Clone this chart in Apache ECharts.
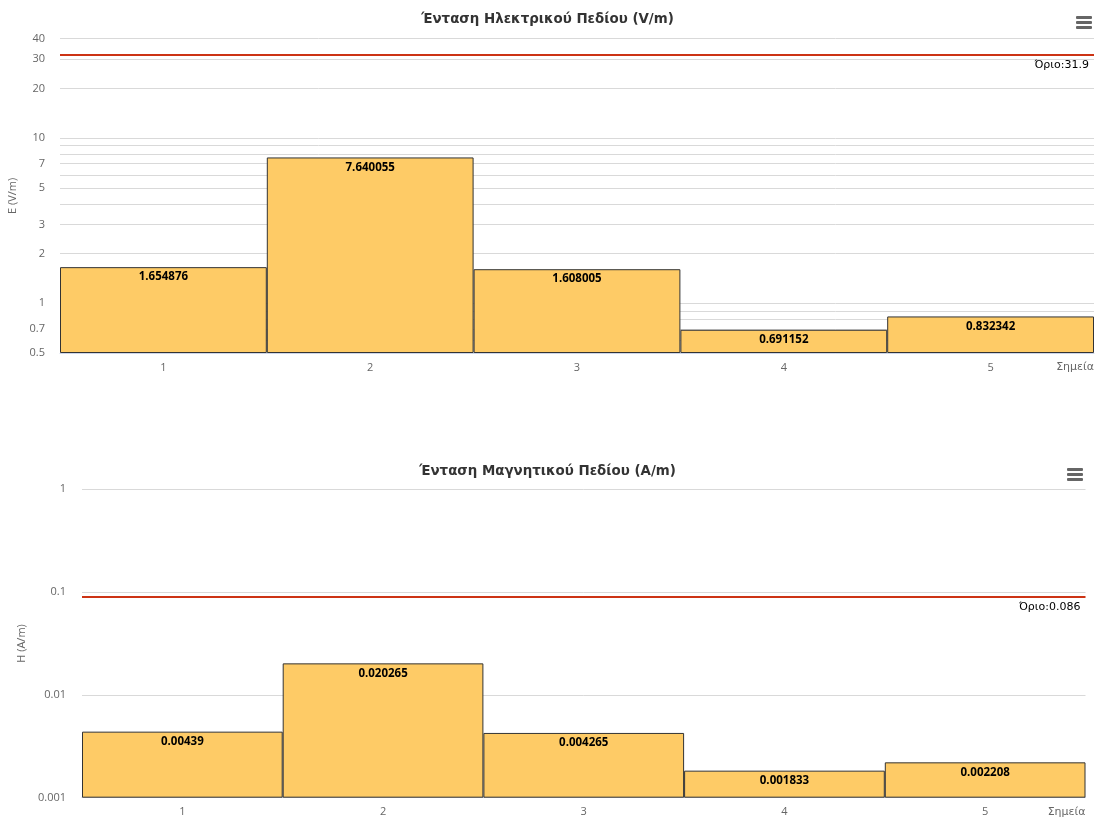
<!DOCTYPE html>
<html>
<head>
<meta charset="utf-8">
<script src="https://cdn.jsdelivr.net/npm/echarts@6/dist/echarts.min.js"></script>
<style>
  html, body { margin: 0; padding: 0; background: #fff; }
  #chart { width: 1095px; height: 818px; }
</style>
</head>
<body>
<div id="chart"></div>
<script>
// Measurement points and field strengths
const points = ['1', '2', '3', '4', '5'];
const eValues = [1.654876, 7.640055, 1.608005, 0.691152, 0.832342];
const hValues = [0.00439, 0.020265, 0.004265, 0.001833, 0.002208];
const eLimit = 31.9;
const hLimit = 0.086;

// Log-axis grid lines and labelled ticks
const eGridValues = [0.5, 0.6, 0.7, 0.8, 0.9, 1, 2, 3, 4, 5, 6, 7, 8, 9, 10, 20, 30, 40];
const eTickLabels = [0.5, 0.7, 1, 2, 3, 5, 7, 10, 20, 30, 40];
const hGridValues = [0.001, 0.01, 0.1, 1];
const hTickLabels = [0.001, 0.01, 0.1, 1];

const FONT = 'Open Sans';
const WIDE_FONT = 'DejaVu Sans';

function xAxis(gridIndex) {
  return {
    type: 'category', gridIndex: gridIndex, data: points, boundaryGap: true,
    axisLine: { lineStyle: { color: '#ccd6eb' } },
    axisTick: { length: 10, lineStyle: { color: '#ccd6eb' } },
    axisLabel: { color: '#666', fontSize: 11, fontFamily: FONT, margin: 9 },
    name: 'Σημεία', nameLocation: 'end', nameGap: 0,
    nameTextStyle: { align: 'right', verticalAlign: 'top', padding: [9, 0, 0, 0], color: '#666', fontSize: 11, fontFamily: WIDE_FONT }
  };
}

function yAxis(gridIndex, min, max, name, nameGap, gridVals, labelVals, margin) {
  return {
    type: 'log', logBase: 10, gridIndex: gridIndex, min: min, max: max, startValue: min,
    name: name, nameLocation: 'middle', nameGap: nameGap, nameRotate: 90,
    nameTextStyle: { color: '#666', fontSize: 11, fontFamily: FONT },
    axisLine: { show: false },
    axisTick: { show: false, customValues: gridVals },
    axisLabel: { customValues: labelVals, color: '#666', fontSize: 11, fontFamily: FONT, margin: margin,
                 formatter: function (v) { return String(v); } },
    splitLine: { show: true, lineStyle: { color: '#d9d9d9', width: 1 } }
  };
}

function barSeries(index, values, limit) {
  return {
    type: 'bar', xAxisIndex: index, yAxisIndex: index, data: values,
    barWidth: '100%', barCategoryGap: 0,
    itemStyle: { color: '#fecb66', borderColor: '#333', borderWidth: 1 },
    label: { show: true, position: 'insideTop', distance: 4, color: '#000', fontWeight: 'bold',
             fontSize: 11.5, fontFamily: FONT, formatter: function (p) { return String(p.value); } },
    markLine: {
      silent: true, symbol: 'none', animation: false,
      lineStyle: { color: '#cc3314', width: 2, type: 'solid' },
      label: { position: 'insideEndBottom', formatter: 'Όριο:' + limit, color: '#000', fontSize: 11, fontFamily: WIDE_FONT },
      data: [{ yAxis: limit }]
    }
  };
}

function menuIcon(x, y) {
  return [0, 5, 10].map(function (dy) {
    return { type: 'rect', shape: { x: x, y: y + dy, width: 16, height: 3, r: 1 }, style: { fill: '#666' } };
  });
}

const titleStyle = { fontSize: 13.4, fontWeight: 'bold', color: '#333', fontFamily: WIDE_FONT };

const chart = echarts.init(document.getElementById('chart'), null, { renderer: 'canvas' });
chart.setOption({
  animation: false,
  backgroundColor: '#fff',
  title: [
    { text: 'Ένταση Ηλεκτρικού Πεδίου (V/m)', left: 'center', top: 8, textStyle: titleStyle },
    { text: 'Ένταση Μαγνητικού Πεδίου (A/m)', left: 'center', top: 460, textStyle: titleStyle }
  ],
  grid: [
    { left: 60, right: 1, top: 38.7, bottom: 465, containLabel: false, outerBoundsMode: 'none' },
    { left: 82, right: 9.5, top: 489.3, bottom: 20.3, containLabel: false, outerBoundsMode: 'none' }
  ],
  xAxis: [xAxis(0), xAxis(1)],
  yAxis: [
    yAxis(0, 0.5, 40, 'E (V/m)', 41, eGridValues, eTickLabels, 15),
    yAxis(1, 0.001, 1, 'H (A/m)', 52, hGridValues, hTickLabels, 16)
  ],
  series: [barSeries(0, eValues, eLimit), barSeries(1, hValues, hLimit)],
  graphic: menuIcon(1076, 16).concat(menuIcon(1067, 468))
});
</script>
</body>
</html>
